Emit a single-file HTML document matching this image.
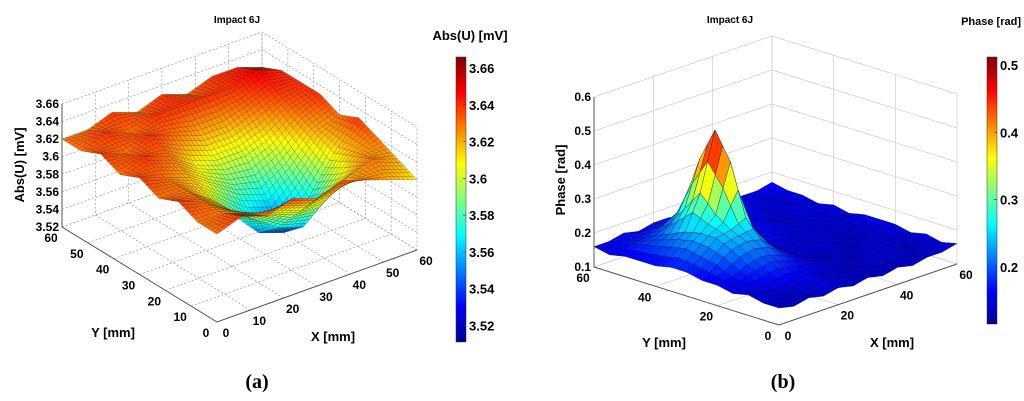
<!DOCTYPE html>
<html><head><meta charset="utf-8">
<style>
html,body{margin:0;padding:0;background:#fff;}
svg{display:block;font-family:"Liberation Sans",Arial,sans-serif;font-weight:bold;}
</style></head>
<body>
<svg id="c" width="1024" height="401" viewBox="0 0 1024 401" xmlns="http://www.w3.org/2000/svg">
<defs>
<linearGradient id="jet" x1="0" y1="1" x2="0" y2="0">
<stop offset="0" stop-color="#00008f"/><stop offset="0.125" stop-color="#0000ff"/>
<stop offset="0.375" stop-color="#00ffff"/><stop offset="0.625" stop-color="#ffff00"/>
<stop offset="0.875" stop-color="#ff0000"/><stop offset="1" stop-color="#800000"/>
</linearGradient>
</defs>
<g id="pa"></g>
<g id="pb"></g>
<text x="257" y="388" font-family="Liberation Serif,serif" font-size="20" text-anchor="middle">(<tspan font-weight="bold">a</tspan>)</text>
<text x="783" y="388" font-family="Liberation Serif,serif" font-size="20" text-anchor="middle">(<tspan font-weight="bold">b</tspan>)</text>
</svg>
<script>
// ---- Panel A data (rows: y = 0..60 step 7.5; columns: x = 0..60 step 7.5) ----
const gridA = [0,7.5,15,22.5,30,37.5,45,52.5,60];
const zA = [
 [3.62,3.63,3.62,3.63,3.62,3.63,3.62,3.61,3.60],
 [3.62,3.62,3.61,3.60,3.59,3.59,3.61,3.62,3.61],
 [3.63,3.62,3.60,3.58,3.56,3.55,3.58,3.61,3.62],
 [3.62,3.62,3.60,3.57,3.54,3.53,3.56,3.60,3.63],
 [3.63,3.62,3.61,3.59,3.57,3.56,3.58,3.61,3.62],
 [3.62,3.63,3.62,3.60,3.59,3.59,3.60,3.62,3.63],
 [3.63,3.62,3.63,3.62,3.61,3.61,3.62,3.63,3.63],
 [3.62,3.63,3.62,3.63,3.63,3.63,3.63,3.64,3.63],
 [3.62,3.62,3.63,3.62,3.63,3.62,3.63,3.63,3.62]
];
const zTicksA = ["3.52","3.54","3.56","3.58","3.6","3.62","3.64","3.66"];
const xyTicksA = [0,10,20,30,40,50,60];
const cbTicksA = ["3.52","3.54","3.56","3.58","3.6","3.62","3.64","3.66"];

// ---- Panel B data (rows: y = 0..60 step 5; columns: x = 0..60 step 5) ----
const gridB = [0,5,10,15,20,25,30,35,40,45,50,55,60];
const zB = [
 [0.15,0.14,0.15,0.14,0.15,0.14,0.15,0.14,0.15,0.14,0.15,0.15,0.16],
 [0.15,0.15,0.14,0.15,0.16,0.15,0.14,0.15,0.14,0.15,0.14,0.15,0.15],
 [0.16,0.15,0.15,0.16,0.16,0.15,0.15,0.14,0.15,0.15,0.15,0.14,0.16],
 [0.15,0.16,0.17,0.18,0.17,0.16,0.15,0.15,0.14,0.15,0.15,0.15,0.15],
 [0.16,0.17,0.19,0.20,0.19,0.17,0.15,0.14,0.15,0.14,0.15,0.15,0.16],
 [0.16,0.19,0.22,0.23,0.22,0.18,0.15,0.15,0.15,0.15,0.14,0.15,0.16],
 [0.17,0.20,0.24,0.25,0.27,0.19,0.16,0.15,0.15,0.15,0.15,0.15,0.16],
 [0.17,0.21,0.24,0.28,0.42,0.24,0.17,0.16,0.15,0.15,0.15,0.15,0.15],
 [0.16,0.20,0.23,0.33,0.50,0.32,0.18,0.16,0.16,0.15,0.15,0.15,0.16],
 [0.16,0.19,0.21,0.27,0.40,0.26,0.17,0.17,0.16,0.15,0.15,0.16,0.15],
 [0.16,0.18,0.19,0.21,0.26,0.20,0.17,0.17,0.16,0.16,0.15,0.15,0.16],
 [0.15,0.17,0.17,0.18,0.18,0.17,0.17,0.16,0.17,0.16,0.16,0.15,0.16],
 [0.16,0.16,0.17,0.16,0.17,0.17,0.16,0.17,0.16,0.16,0.16,0.16,0.17]
];
const zTicksB = ["0.1","0.2","0.3","0.4","0.5","0.6"];
const xyTicksB = [0,20,40,60];
const cbTicksB = ["0.2","0.3","0.4","0.5"];

const NS="http://www.w3.org/2000/svg";
function mk(parent,tag,attrs,txt){const e=document.createElementNS(NS,tag);for(const k in attrs)e.setAttribute(k,attrs[k]);if(txt!==undefined)e.textContent=txt;parent.appendChild(e);return e;}
function jet(t){t=Math.max(0,Math.min(1,t));
 const r=Math.max(0,Math.min(1,1.5-Math.abs(4*t-3))),g=Math.max(0,Math.min(1,1.5-Math.abs(4*t-2))),b=Math.max(0,Math.min(1,1.5-Math.abs(4*t-1)));
 return `rgb(${Math.round(r*255)},${Math.round(g*255)},${Math.round(b*255)})`;}

function panel(g,cfg,grid,z,zTicks,xyTicks,cbTicks){
 const F=cfg.F,L=cfg.L,R=cfg.R;
 const P=(x,y,zz)=>[F[0]+x/60*(R[0]-F[0])+y/60*(L[0]-F[0]), F[1]+x/60*(R[1]-F[1])+y/60*(L[1]-F[1])-(zz-cfg.zmin)/(cfg.zmax-cfg.zmin)*cfg.H];
 const gs=cfg.gridStyle;
 zTicks.forEach(v=>{const zz=+v;const a=P(0,60,zz),b=P(60,60,zz),c=P(60,0,zz);
  const ln=mk(g,'polyline',{points:`${a} ${b} ${c}`,fill:'none',stroke:cfg.gridCol,'stroke-width':0.7,'stroke-dasharray':gs});
  });
 xyTicks.forEach(v=>{
  let a=P(v,0,cfg.zmin),b=P(v,60,cfg.zmin),c=P(v,60,cfg.zmax);
  let l1=mk(g,'polyline',{points:`${a} ${b} ${c}`,fill:'none',stroke:cfg.gridCol,'stroke-width':0.7,'stroke-dasharray':gs});
  
  a=P(0,v,cfg.zmin);b=P(60,v,cfg.zmin);c=P(60,v,cfg.zmax);
  let l2=mk(g,'polyline',{points:`${a} ${b} ${c}`,fill:'none',stroke:cfg.gridCol,'stroke-width':0.7,'stroke-dasharray':gs});
  });
 const ax=mk(g,'polyline',{points:`${P(0,60,cfg.zmax)} ${P(0,60,cfg.zmin)} ${P(0,0,cfg.zmin)} ${P(60,0,cfg.zmin)}`,fill:'none',stroke:'#555','stroke-width':1});
 
 const n=grid.length,S=cfg.sub,cells=[];
 const zAt=(i,j)=>z[i][j];
 for(let i=0;i<n-1;i++)for(let j=0;j<n-1;j++)for(let a=0;a<S;a++)for(let b=0;b<S;b++){
  const u0=b/S,u1=(b+1)/S,v0=a/S,v1=(a+1)/S;
  const bil=(u,v)=>zAt(i,j)*(1-u)*(1-v)+zAt(i,j+1)*u*(1-v)+zAt(i+1,j)*(1-u)*v+zAt(i+1,j+1)*u*v;
  const X=u=>grid[j]+u*(grid[j+1]-grid[j]),Y=v=>grid[i]+v*(grid[i+1]-grid[i]);
  const pts=[[u0,v0],[u1,v0],[u1,v1],[u0,v1]].map(([u,v])=>({x:X(u),y:Y(v),z:bil(u,v)}));
  const zm=pts.reduce((s,p)=>s+p.z,0)/4;
  cells.push({pts,zm,d:pts.reduce((s,p)=>s+p.x+p.y,0)});
 }
 cells.sort((p,q)=>q.d-p.d);
 const sg=mk(g,'g',{});
 cells.forEach(c=>{const p=mk(sg,'polygon',{points:c.pts.map(q=>P(q.x,q.y,q.z).map(v=>v.toFixed(1)).join(',')).join(' '),
  fill:jet((c.zm-cfg.cmin)/(cfg.cmax-cfg.cmin)+cfg.cshift),stroke:cfg.edge,'stroke-width':cfg.edgeW,'stroke-linejoin':'round'});
  });
 zTicks.forEach(v=>{const q=P(0,60,+v);const t=mk(g,'text',{x:q[0]-3,y:q[1]+4,'font-size':12,'text-anchor':'end'},v);
  });
 xyTicks.forEach(v=>{let q=P(v,0,cfg.zmin);let t=mk(g,'text',{x:q[0]+9,y:q[1]+15,'font-size':12,'text-anchor':'middle'},v);
  
  q=P(0,v,cfg.zmin);t=mk(g,'text',{x:q[0]-11,y:q[1]+15,'font-size':12,'text-anchor':'middle'},v);
  });
 let t=mk(g,'text',{x:cfg.xl[0],y:cfg.xl[1],'font-size':13,'text-anchor':'middle'},'X [mm]');
 t=mk(g,'text',{x:cfg.yl[0],y:cfg.yl[1],'font-size':13,'text-anchor':'middle'},'Y [mm]');
 t=mk(g,'text',{x:cfg.zl[0],y:cfg.zl[1],'font-size':13,'text-anchor':'middle',transform:`rotate(-90 ${cfg.zl[0]} ${cfg.zl[1]})`},cfg.zTitle);
 t=mk(g,'text',{x:cfg.title[0],y:cfg.title[1],'font-size':10,'text-anchor':'middle'},'Impact 6J');
 const cb=cfg.cb;
 const r=mk(g,'rect',{x:cb.x,y:cb.y0,width:10,height:cb.y1-cb.y0,fill:'url(#jet)',stroke:'#333','stroke-width':0.5});
 
 const cy=v=>cb.y1-(v-cfg.cmin)/(cfg.cmax-cfg.cmin)*(cb.y1-cb.y0);
 cbTicks.forEach(v=>{const y=cy(+v);mk(g,'line',{x1:cb.x+10,y1:y,x2:cb.x+7,y2:y,stroke:'#333','stroke-width':0.6});
  const tt=mk(g,'text',{x:cb.x+13,y:y+5,'font-size':13},v);});
 t=mk(g,'text',{x:cb.tx,y:cb.ty,'font-size':cb.fs,'text-anchor':cb.anchor},cfg.cbTitle);
}

panel(document.getElementById('pa'),{F:[217,322],L:[62,227],R:[417,250],H:123,zmin:3.52,zmax:3.66,cmin:3.511,cmax:3.666,cshift:0.06,
 gridCol:'#999',gridStyle:'2,2',edge:'rgba(0,0,0,0.45)',edgeW:0.35,sub:6,
 xl:[333,341],yl:[113,337],zl:[24,165],zTitle:'Abs(U) [mV]',title:[237,23],cbTitle:'Abs(U) [mV]',
 cb:{x:456,y0:57,y1:342,tx:470,ty:40,fs:13,anchor:'middle'}},gridA,zA,zTicksA,xyTicksA,cbTicksA);

panel(document.getElementById('pb'),{F:[779,325],L:[594,267],R:[957,264],H:170,zmin:0.1,zmax:0.6,cmin:0.115,cmax:0.512,cshift:0,
 gridCol:'#ccc',gridStyle:'none',edge:'rgba(0,0,30,0.75)',edgeW:0.4,sub:2,
 xl:[892,347],yl:[664,347],zl:[565,180],zTitle:'Phase [rad]',title:[730,23],cbTitle:'Phase [rad]',
 cb:{x:987,y0:57,y1:324,tx:1021,ty:25,fs:11,anchor:'end'}},gridB,zB,zTicksB,xyTicksB,cbTicksB);
</script>
</body></html>
